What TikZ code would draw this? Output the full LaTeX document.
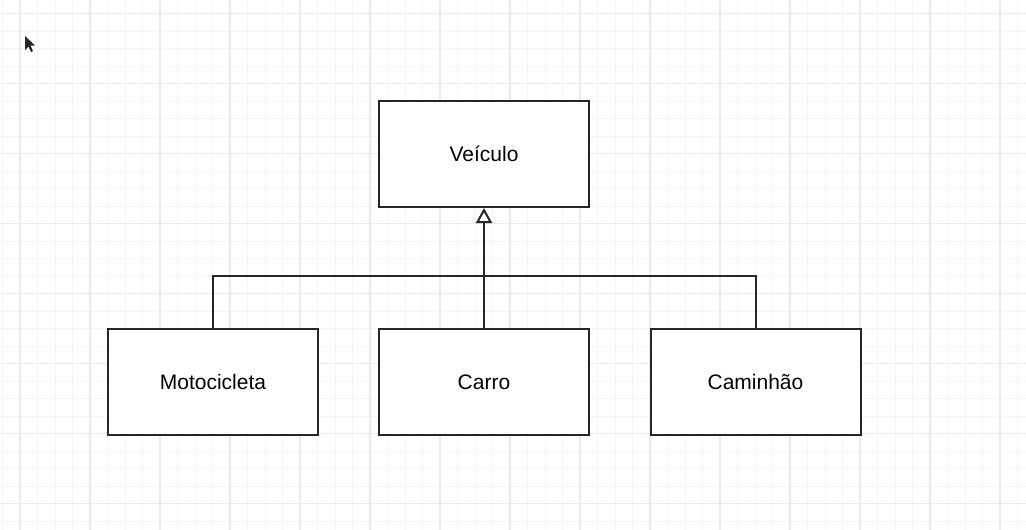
\documentclass[tikz,border=0pt]{standalone}
\usepackage{fontspec}
\setmainfont{Liberation Sans}
\usetikzlibrary{arrows.meta}
\begin{document}
\begin{tikzpicture}
            [x=1pt, y=-1pt, font=\fontsize{21}{25}\selectfont,
            classbox/.style={draw=black!85, line width=2pt, minimum width=210pt,
            minimum height=106pt, inner sep=0pt, text height=17pt, text depth=2pt,
            fill=white},
            link/.style={draw=black!85, line width=2pt},
            minorgrid/.style={draw=black!4, line width=1pt},
            majorgrid/.style={draw=black!8, line width=1.2pt}]
            \useasboundingbox (0,0) rectangle (1026,530);
            % grid of the canvas
            \foreach \gx in {2.5,20,...,1026} {
                \draw [minorgrid] (\gx,0) -- (\gx,530);
            }
            \foreach \gy in {13.5,31,...,530} {
                \draw [minorgrid] (0,\gy) -- (1026,\gy);
            }
            \foreach \gx in {20,90,...,1026} {
                \draw [majorgrid] (\gx,0) -- (\gx,530);
            }
            \foreach \gy in {13.5,83.5,...,530} {
                \draw [majorgrid] (0,\gy) -- (1026,\gy);
            }
            % mouse pointer
            \fill [black!85] (25,36) -- (25,50) -- (28.5,46.5) -- (31,52) -- (33,51)
                -- (30.5,45.5) -- (35,45.5) -- cycle;
            % classes
            \node [classbox] (veiculo) at (484,154) {Veículo};
            \node [classbox] (motocicleta) at (213,381.5) {Motocicleta};
            \node [classbox] (carro) at (484,381.5) {Carro};
            \node [classbox] (caminhao) at (755.5,381.5) {Caminhão};
            \coordinate (bar) at (484,276);
            % inheritance
            \draw [link] (motocicleta.north) |- (bar) -| (caminhao.north);
            \draw [link, -{Triangle[open, length=15pt, width=16pt, line width=2pt]}]
                (carro.north) -- (veiculo.south);
            \end{tikzpicture}
\end{document}
